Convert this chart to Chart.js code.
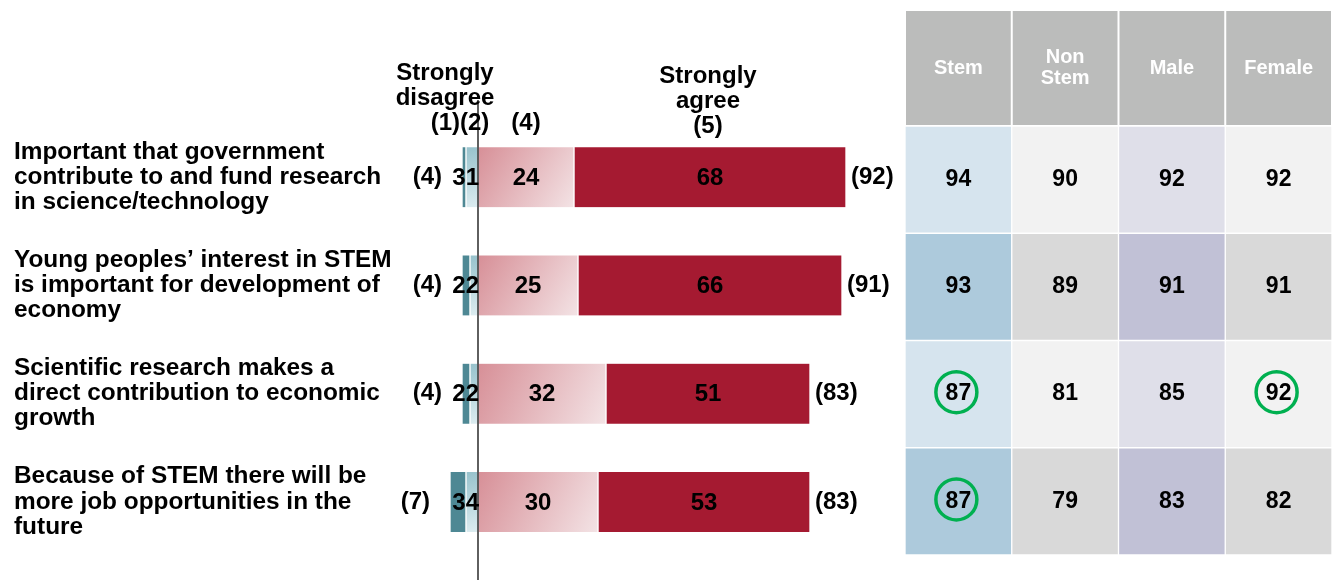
<!DOCTYPE html>
<html>
<head>
<meta charset="utf-8">
<script src="https://cdn.jsdelivr.net/npm/chart.js@4.4.1/dist/chart.umd.min.js"></script>
<style>
  html, body { margin: 0; padding: 0; background: #fff; }
  body { width: 1337px; height: 580px; position: relative; overflow: hidden; }
  #barsBox { position: absolute; left: 0; top: 0; width: 905px; height: 580px; }
  #tableBox { position: absolute; left: 905px; top: 0; width: 432px; height: 580px; }
</style>
</head>
<body>
<div id="barsBox"><canvas id="agreementChart"></canvas></div>
<div id="tableBox"><canvas id="groupTable"></canvas></div>
<script>
'use strict';

/* Attitudes to STEM - agreement scale with group breakdown
 * --------------------------------------------------------
 * Left: diverging stacked bars (1-2 disagree, 4-5 agree)
 * Right: % agree by group, one cell per statement
 */

var statements = [
  ['Important that government', 'contribute to and fund research', 'in science/technology'],
  ['Young peoples\u2019 interest in STEM', 'is important for development of', 'economy'],
  ['Scientific research makes a', 'direct contribution to economic', 'growth'],
  ['Because of STEM there will be', 'more job opportunities in the', 'future']
];
var stronglyDisagree = [1, 2, 2, 4];
var disagree = [3, 2, 2, 3];
var agree = [24, 25, 32, 30];
var stronglyAgree = [68, 66, 51, 53];
var netDisagree = [4, 4, 4, 7];
var netAgree = [92, 91, 83, 83];

var groups = ['Stem', 'Non Stem', 'Male', 'Female'];
var stemScores = [94, 93, 87, 87];
var nonStemScores = [90, 89, 81, 79];
var maleScores = [92, 91, 85, 83];
var femaleScores = [92, 91, 92, 82];
var circledCells = [[2, 0], [2, 3], [3, 0]]; // [statement, group]

var FONT = '"Liberation Sans", Arial, sans-serif';
Chart.defaults.font.family = FONT;
Chart.defaults.color = '#000';

// diagonal fill for the bar segments that touch zero
function gradientFill(from, to) {
  return function (context) {
    var chart = context.chart;
    var x = chart.scales.x;
    var y = chart.scales.y;
    if (!x || !y || context.type !== 'data') {
      return from;
    }
    var x0 = x.getPixelForValue(0);
    var x1 = x.getPixelForValue(context.raw);
    var yc = y.getPixelForValue(context.dataIndex);
    if (!isFinite(x0) || !isFinite(x1) || !isFinite(yc)) {
      return from;
    }
    var g = chart.ctx.createLinearGradient(Math.min(x0, x1), yc - 30, Math.max(x0, x1), yc + 30);
    g.addColorStop(0, from);
    g.addColorStop(1, to);
    return g;
  };
}

var agreementLabels = {
  id: 'agreementLabels',
  afterDatasetsDraw: function (chart) {
    var ctx = chart.ctx;
    var x = chart.scales.x;
    var y = chart.scales.y;
    var zero = x.getPixelForValue(0);

    ctx.save();
    ctx.strokeStyle = '#383838';
    ctx.lineWidth = 1.6;
    ctx.beginPath();
    ctx.moveTo(zero, 100);
    ctx.lineTo(zero, chart.height);
    ctx.stroke();

    ctx.fillStyle = '#000';
    ctx.font = 'bold 24px ' + FONT;
    ctx.textBaseline = 'middle';

    statements.forEach(function (s, i) {
      var cy = y.getPixelForValue(i);
      [2, 3].forEach(function (d) {
        var p = chart.getDatasetMeta(d).data[i].getCenterPoint();
        ctx.textAlign = 'center';
        ctx.fillText(String(chart.data.datasets[d].data[i]), p.x, cy + 1);
      });

      ctx.textAlign = 'right';
      ctx.fillText(String(disagree[i]) + String(stronglyDisagree[i]), zero + 1, cy + 1);

      var left = x.getPixelForValue(-(disagree[i] + stronglyDisagree[i]));
      ctx.fillText('(' + netDisagree[i] + ')', left - 20, cy);

      var right = x.getPixelForValue(agree[i] + stronglyAgree[i]);
      ctx.textAlign = 'left';
      ctx.fillText('(' + netAgree[i] + ')', right + 5, cy);
    });

    // scale point headings above the first bar
    var headings = [
      { at: -8.25, top: 73, lines: ['Strongly', 'disagree'] },
      { at: -4.5, top: 123, lines: ['(1)(2)'] },
      { at: 12, top: 123, lines: ['(4)'] },
      { at: 57.5, top: 76, lines: ['Strongly', 'agree', '(5)'] }
    ];
    ctx.textAlign = 'center';
    headings.forEach(function (h) {
      var cx = x.getPixelForValue(h.at);
      h.lines.forEach(function (t, k) {
        ctx.fillText(t, cx, h.top + k * 25);
      });
    });
    ctx.restore();
  }
};

new Chart(document.getElementById('agreementChart'), {
  type: 'bar',
  data: {
    labels: statements,
    datasets: [
      {
        label: 'Disagree (2)',
        data: disagree.map(function (v) { return -v; }),
        backgroundColor: gradientFill('#97c2cc', '#dcecf0')
      },
      {
        label: 'Strongly disagree (1)',
        data: stronglyDisagree.map(function (v) { return -v; }),
        backgroundColor: '#4e8894'
      },
      {
        label: 'Agree (4)',
        data: agree,
        backgroundColor: gradientFill('#d78f97', '#f3e3e5')
      },
      {
        label: 'Strongly agree (5)',
        data: stronglyAgree,
        backgroundColor: '#a51a31'
      }
    ]
  },
  options: {
    indexAxis: 'y',
    responsive: true,
    maintainAspectRatio: false,
    animation: false,
    layout: { padding: { left: 14, right: 7, top: 123, bottom: 24 } },
    datasets: {
      bar: {
        barThickness: 60,
        borderColor: '#fff',
        borderWidth: { left: 1, right: 1, top: 0, bottom: 0 },
        borderSkipped: false
      }
    },
    plugins: {
      legend: { display: false },
      tooltip: { enabled: false }
    },
    scales: {
      x: { stacked: true, min: -20, max: 105, display: false },
      y: {
        stacked: true,
        grid: { display: false },
        border: { display: false },
        ticks: {
          crossAlign: 'far',
          padding: 0,
          color: '#000',
          font: { size: 24.4, weight: 'bold', lineHeight: 1.03 }
        },
        afterFit: function (scale) {
          scale.width = 384;
          scale.paddingTop = 0;
          scale.paddingBottom = 0;
        }
      }
    }
  },
  plugins: [agreementLabels]
});

// group table: each cell is one unit in a stacked column
var lightShades = ['#d6e4ee', '#f2f2f2', '#dfdfe9', '#f2f2f2'];
var darkShades = ['#adcadc', '#d9d9d9', '#c1c1d6', '#d9d9d9'];

function rowScores(r) {
  return [stemScores[r], nonStemScores[r], maleScores[r], femaleScores[r]];
}

var tableLabels = {
  id: 'tableLabels',
  beforeDatasetsDraw: function (chart) {
    var ctx = chart.ctx;
    var x = chart.scales.x;
    var half = (x.getPixelForValue(1) - x.getPixelForValue(0)) / 2;
    var top = 11;
    var bottom = chart.chartArea.top - 1;

    ctx.save();
    ctx.font = 'bold 20px ' + FONT;
    ctx.textAlign = 'center';
    ctx.textBaseline = 'middle';
    groups.forEach(function (g, j) {
      var cx = x.getPixelForValue(j);
      ctx.fillStyle = '#bbbcbb';
      ctx.fillRect(cx - half + 1, top, half * 2 - 2, bottom - top);
      ctx.fillStyle = '#fff';
      var lines = g.split(' ');
      var mid = (top + bottom) / 2;
      lines.forEach(function (t, k) {
        ctx.fillText(t, cx, mid + (k - (lines.length - 1) / 2) * 21);
      });
    });
    ctx.restore();
  },
  afterDatasetsDraw: function (chart) {
    var ctx = chart.ctx;
    ctx.save();
    ctx.font = 'bold 23px ' + FONT;
    ctx.fillStyle = '#000';
    ctx.textAlign = 'center';
    ctx.textBaseline = 'middle';
    statements.forEach(function (s, r) {
      var scores = rowScores(r);
      chart.getDatasetMeta(r).data.forEach(function (el, j) {
        var p = el.getCenterPoint();
        ctx.fillText(String(scores[j]), p.x, p.y);
      });
    });

    ctx.strokeStyle = '#00b050';
    ctx.lineWidth = 3.5;
    circledCells.forEach(function (c) {
      var p = chart.getDatasetMeta(c[0]).data[c[1]].getCenterPoint();
      ctx.beginPath();
      ctx.arc(p.x - 2, p.y - 2, 20.5, 0, Math.PI * 2);
      ctx.stroke();
    });
    ctx.restore();
  }
};

new Chart(document.getElementById('groupTable'), {
  type: 'bar',
  data: {
    labels: groups,
    datasets: statements.map(function (s, r) {
      return {
        label: s.join(' '),
        data: groups.map(function () { return 1; }),
        backgroundColor: r % 2 ? darkShades : lightShades
      };
    })
  },
  options: {
    responsive: true,
    maintainAspectRatio: false,
    animation: false,
    layout: { padding: { left: 0, right: 5, top: 126, bottom: 25 } },
    datasets: {
      bar: {
        categoryPercentage: 1,
        barPercentage: 1,
        borderColor: '#fff',
        borderWidth: 1,
        borderSkipped: false
      }
    },
    plugins: {
      legend: { display: false },
      tooltip: { enabled: false }
    },
    scales: {
      x: { stacked: true, display: false },
      y: { stacked: true, min: 0, max: 4, reverse: true, display: false }
    }
  },
  plugins: [tableLabels]
});
</script>
</body>
</html>
